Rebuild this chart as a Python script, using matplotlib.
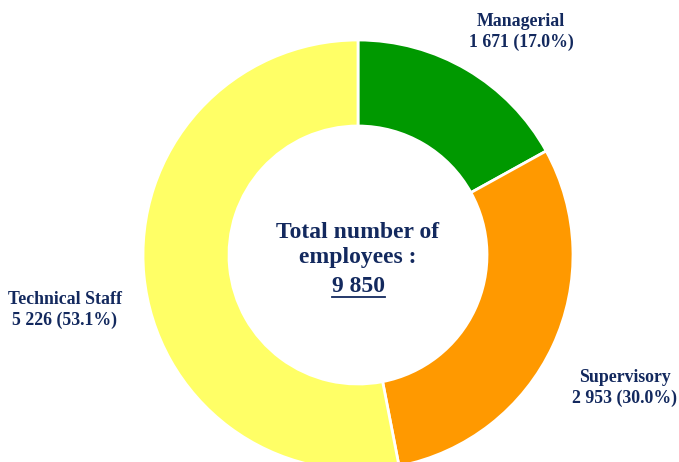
import matplotlib
matplotlib.use("Agg")
import matplotlib.pyplot as plt
import numpy as np

categories = ["Managerial", "Supervisory", "Technical Staff"]
counts = [1671, 2953, 5226]
colors = ["#009900", "#FF9900", "#FFFF66"]
center_title = "Total number of\nemployees :"

total = sum(counts)
txt_color = "#13295e"

def fmt(n):
    return f"{n:,}".replace(",", " ")

fig = plt.figure(figsize=(6.79, 4.62), dpi=100)
ax = fig.add_axes([0, 0, 1, 1])

cx, cy, R = 358, 207, 215
wedges, _ = ax.pie(counts, colors=colors, startangle=90, counterclock=False,
                   center=(cx, cy), radius=R, frame=True,
                   wedgeprops=dict(width=R * 0.4, edgecolor="white", linewidth=2))
ax.set_xlim(0, 679)
ax.set_ylim(0, 462)
ax.set_aspect("equal")
ax.axis("off")

# label positions (x, y) in pixels from top-left
label_pos = [(521, 32), (625, 388), (65, 310)]
for name, n, (lx, ly) in zip(categories, counts, label_pos):
    ax.text(lx, 462 - ly, f"{name}\n{fmt(n)} ({n / total * 100:.1f}%)",
            ha="center", va="center", fontsize=12.8, fontweight="bold",
            family="Liberation Serif", color=txt_color, linespacing=1.3)

ax.text(cx, 462 - 245, center_title, ha="center", va="center", fontsize=17,
        fontweight="bold", family="Liberation Serif", color=txt_color,
        linespacing=1.3)
tot = ax.text(cx, 462 - 287, fmt(total), ha="center", va="center", fontsize=17,
              fontweight="bold", family="Liberation Serif", color=txt_color)

fig.canvas.draw()
bb = tot.get_window_extent().transformed(ax.transData.inverted())
ax.plot([bb.x0, bb.x1], [bb.y0 + 1, bb.y0 + 1], color=txt_color, lw=1.3)

fig.savefig("out.png", dpi=100)
